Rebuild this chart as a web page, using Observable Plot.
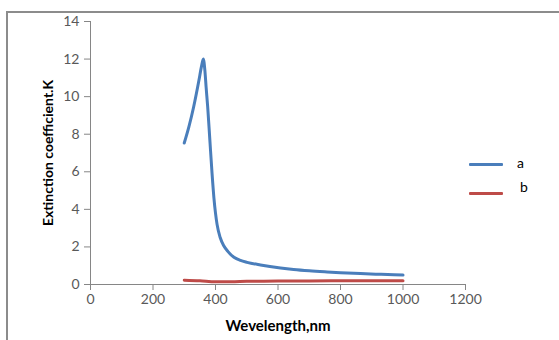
<!DOCTYPE html>
<html>
<head>
<meta charset="utf-8">
<script src="https://cdn.jsdelivr.net/npm/d3@7"></script>
<script src="https://cdn.jsdelivr.net/npm/@observablehq/plot@0.6"></script>
<style>
  html, body { margin: 0; padding: 0; background: #fff; }
  #wrap { position: relative; width: 559px; height: 340px; overflow: hidden; font-family: Lato, "Open Sans", sans-serif; }
  #frame { position: absolute; left: 6px; top: 11px; width: 560px; height: 340px; border-top: 2px solid #8c8c8c; border-left: 2px solid #8c8c8c; box-sizing: border-box; }
  #legend { position: absolute; left: 469px; top: 152px; font-size: 14px; color: #000; }
  .item { position: absolute; white-space: nowrap; }
  .swatch { position: absolute; width: 34px; height: 3px; border-radius: 1px; }
</style>
</head>
<body>
<div id="wrap">
  <div id="frame"></div>
  <div id="chart"></div>
  <div id="legend"></div>
</div>
<script>
// Series a
const wavelengthA = [300, 315, 330, 347, 355, 361, 366, 370, 375, 382, 389, 395, 400, 405, 415, 427, 440, 459, 480, 501, 544, 608, 650, 700, 757, 800, 864, 930, 1000];
const kA =          [7.53, 8.4, 9.45, 10.87, 11.6, 12.0, 11.4, 10.5, 9.45, 7.67, 5.9, 4.6, 3.8, 3.2, 2.5, 2.05, 1.75, 1.45, 1.28, 1.18, 1.04, 0.88, 0.8, 0.73, 0.67, 0.63, 0.58, 0.54, 0.5];
// Series b
const wavelengthB = [300, 350, 400, 450, 500, 600, 700, 800, 900, 1000];
const kB =          [0.23, 0.2, 0.15, 0.15, 0.17, 0.18, 0.19, 0.2, 0.2, 0.2];
// Ticks
const xTicks = [0, 200, 400, 600, 800, 1000, 1200];
const yTicks = [0, 2, 4, 6, 8, 10, 12, 14];
const seriesNames = ["a", "b"];
const seriesColors = ["#4A7EBB", "#BE4B48"];

const dataA = wavelengthA.map((w, i) => ({w, k: kA[i]}));
const dataB = wavelengthB.map((w, i) => ({w, k: kB[i]}));

const chart = Plot.plot({
  width: 559,
  height: 340,
  marginLeft: 90,
  marginRight: 94,
  marginTop: 21,
  marginBottom: 56,
  style: {fontFamily: "Lato, 'Open Sans', sans-serif", fontSize: "14px", background: "transparent", overflow: "visible"},
  x: {domain: [0, 1200]},
  y: {domain: [0, 14]},
  marks: [
    Plot.axisX({ticks: xTicks, tickFormat: d => String(d), tickSize: 6, tickPadding: 4, stroke: "#868686", fill: "#595959", fontSize: 14, label: null}),
    Plot.axisY({ticks: yTicks, tickFormat: d => String(d), tickSize: 6, tickPadding: 5, stroke: "#868686", fill: "#595959", fontSize: 14, label: null}),
    Plot.axisX({ticks: [], label: "Wevelength,nm", labelAnchor: "center", labelArrow: "none", labelOffset: 46, fontSize: 15, fontWeight: "bold", fill: "#000"}),
    Plot.axisY({ticks: [], label: "Extinction coefficient.K", labelAnchor: "center", labelArrow: "none", labelOffset: 47, fontSize: 14, fontWeight: "bold", fill: "#000"}),
    Plot.ruleY([0], {stroke: "#868686"}),
    Plot.ruleX([0], {stroke: "#868686"}),
    Plot.line(dataB, {x: "w", y: "k", stroke: seriesColors[1], strokeWidth: 3, curve: "monotone-x"}),
    Plot.line(dataA, {x: "w", y: "k", stroke: seriesColors[0], strokeWidth: 3, curve: "monotone-x"})
  ]
});
document.getElementById("chart").appendChild(chart);

const legend = document.getElementById("legend");
const offsets = [[11, 2], [40, 26]];
seriesNames.forEach((n, i) => {
  const sw = document.createElement("div");
  sw.className = "swatch";
  sw.style.left = "0px";
  sw.style.top = offsets[i][0] + "px";
  sw.style.background = seriesColors[i];
  legend.appendChild(sw);
  const t = document.createElement("div");
  t.className = "item";
  t.style.left = (48 + i * 3) + "px";
  t.style.top = (offsets[i][1]) + "px";
  t.textContent = n;
  legend.appendChild(t);
});
</script>
</body>
</html>
